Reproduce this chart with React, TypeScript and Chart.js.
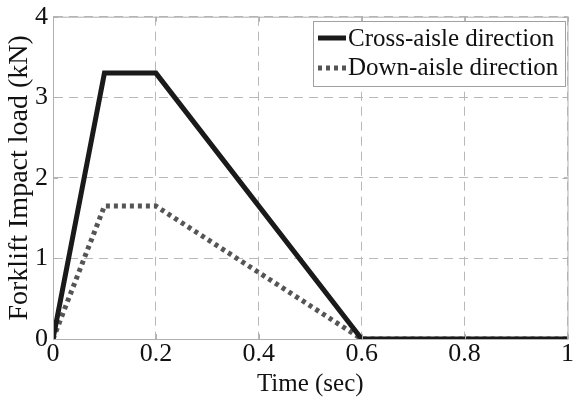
import React, { useEffect, useRef } from "react";
import { Chart, registerables } from "chart.js";

Chart.register(...registerables);

const times = [0, 0.1, 0.2, 0.6, 1.0];
const crossAisle = [0, 3.3, 3.3, 0, 0];
const downAisle = [0, 1.65, 1.65, 0, 0];
const seriesLabels = ["Cross-aisle direction", "Down-aisle direction"];
const xTicks = [0, 0.2, 0.4, 0.6, 0.8, 1];
const yTicks = [0, 1, 2, 3, 4];

const FONT = "'Liberation Serif', 'Times New Roman', serif";

const boxPlugin = {
  id: "boxPlugin",
  afterDatasetsDraw(chart: any) {
    const { ctx, chartArea, scales } = chart;
    const { left, right, top, bottom } = chartArea;
    ctx.save();
    ctx.strokeStyle = "#b0b0b0";
    ctx.lineWidth = 1;
    ctx.setLineDash([]);
    ctx.strokeRect(left + 0.5, top + 0.5, right - left, bottom - top);
    ctx.beginPath();
    for (const v of xTicks) {
      const x = Math.round(scales.x.getPixelForValue(v)) + 0.5;
      ctx.moveTo(x, bottom); ctx.lineTo(x, bottom - 5);
      ctx.moveTo(x, top); ctx.lineTo(x, top + 5);
    }
    for (const v of yTicks) {
      const y = Math.round(scales.y.getPixelForValue(v)) + 0.5;
      ctx.moveTo(left, y); ctx.lineTo(left + 5, y);
      ctx.moveTo(right, y); ctx.lineTo(right - 5, y);
    }
    ctx.stroke();
    ctx.restore();
  },
  afterDraw(chart: any) {
    const { ctx } = chart;
    const x0 = 313, y0 = 21, w = 252, h = 65;
    ctx.save();
    ctx.fillStyle = "#ffffff";
    ctx.fillRect(x0, y0, w, h);
    ctx.strokeStyle = "#a0a0a0";
    ctx.lineWidth = 1;
    ctx.strokeRect(x0 + 0.5, y0 + 0.5, w, h);
    ctx.font = `25px ${FONT}`;
    ctx.fillStyle = "#111";
    ctx.textBaseline = "middle";
    const rows = [y0 + 17, y0 + 47];
    ctx.strokeStyle = "#1a1a1a";
    ctx.lineWidth = 5;
    ctx.beginPath();
    ctx.moveTo(x0 + 5, rows[0]);
    ctx.lineTo(x0 + 33, rows[0]);
    ctx.stroke();
    ctx.strokeStyle = "#555";
    ctx.setLineDash([4, 4]);
    ctx.beginPath();
    ctx.moveTo(x0 + 5, rows[1]);
    ctx.lineTo(x0 + 33, rows[1]);
    ctx.stroke();
    ctx.setLineDash([]);
    ctx.fillText(seriesLabels[0], x0 + 35, rows[0] + 1);
    ctx.fillText(seriesLabels[1], x0 + 35, rows[1]);
    ctx.restore();
  },
};

export default function App() {
  const ref = useRef<HTMLCanvasElement>(null);
  useEffect(() => {
    document.body.style.margin = "0";
    const chart = new Chart(ref.current!, {
      type: "line",
      data: {
        datasets: [
          {
            label: seriesLabels[0],
            data: times.map((t, i) => ({ x: t, y: crossAisle[i] })),
            borderColor: "#1a1a1a",
            borderWidth: 5,
            pointRadius: 0,
            borderJoinStyle: "miter",
          },
          {
            label: seriesLabels[1],
            data: times.map((t, i) => ({ x: t, y: downAisle[i] })),
            borderColor: "#555555",
            borderWidth: 5,
            borderDash: [4, 4],
            pointRadius: 0,
          },
        ],
      },
      options: {
        animation: false,
        responsive: false,
        devicePixelRatio: 1,
        layout: { padding: { top: 13, right: 4, left: 0, bottom: 0 } },
        plugins: { legend: { display: false }, tooltip: { enabled: false } },
        scales: {
          x: {
            type: "linear",
            min: 0,
            max: 1,
            afterBuildTicks: (s: any) => { s.ticks = xTicks.map((v) => ({ value: v })); },
            afterFit: (s: any) => { s.height = 60; },
            grid: { color: "#b8b8b8", drawTicks: false, lineWidth: 1 } as any,
            border: { display: true, color: "#b0b0b0", dash: [9, 6] } as any,
            ticks: {
              color: "#111",
              font: { family: FONT, size: 26 },
              padding: 0,
              maxRotation: 0,
              callback: (v: any) => String(v),
            },
            title: {
              display: true,
              text: "Time (sec)",
              color: "#111",
              font: { family: FONT, size: 25 },
              padding: { top: -8, bottom: 0 },
            },
          },
          y: {
            type: "linear",
            min: 0,
            max: 4,
            afterBuildTicks: (s: any) => { s.ticks = yTicks.map((v) => ({ value: v })); },
            afterFit: (s: any) => { s.width = 53; },
            grid: { color: "#b8b8b8", drawTicks: false, lineWidth: 1 } as any,
            border: { display: true, color: "#b0b0b0", dash: [9, 6] } as any,
            ticks: {
              color: "#111",
              font: { family: FONT, size: 26, lineHeight: 0.9 },
              padding: 5,
              callback: (v: any) => String(v),
            },
            title: {
              display: true,
              text: "Forklift Impact load (kN)",
              color: "#111",
              font: { family: FONT, size: 28 },
              padding: { top: 3, bottom: 0 },
            },
          },
        },
      },
      plugins: [boxPlugin],
    });
    return () => chart.destroy();
  }, []);
  return (
    <div style={{ position: "absolute", left: 0, top: 0, width: 574, height: 399, background: "#fff" }}>
      <canvas ref={ref} width={574} height={399} style={{ width: 574, height: 399 }} />
    </div>
  );
}
